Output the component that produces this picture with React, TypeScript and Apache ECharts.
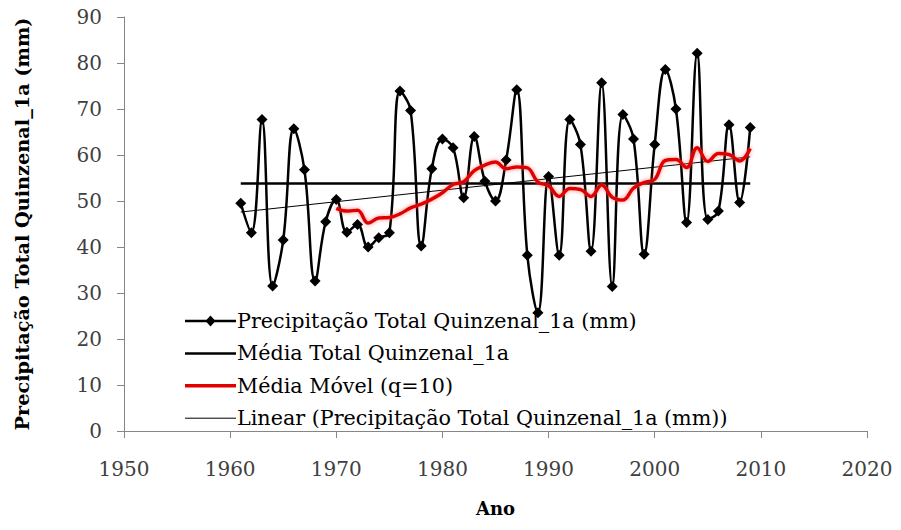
import React, { useEffect, useRef } from "react";
import * as echarts from "echarts";

const years = [
  1961, 1962, 1963, 1964, 1965, 1966, 1967, 1968, 1969, 1970,
  1971, 1972, 1973, 1974, 1975, 1976, 1977, 1978, 1979, 1980,
  1981, 1982, 1983, 1984, 1985, 1986, 1987, 1988, 1989, 1990,
  1991, 1992, 1993, 1994, 1995, 1996, 1997, 1998, 1999, 2000,
  2001, 2002, 2003, 2004, 2005, 2006, 2007, 2008, 2009,
];
const precip = [
  49.5, 43.1, 67.7, 31.5, 41.5, 65.7, 56.8, 32.6, 45.5, 50.3,
  43.2, 44.9, 40.0, 42.0, 43.1, 73.9, 69.7, 40.2, 57.0, 63.5,
  61.6, 50.7, 64.0, 54.3, 50.0, 58.9, 74.2, 38.2, 25.7, 55.3,
  38.2, 67.7, 62.3, 39.1, 75.7, 31.4, 68.8, 63.5, 38.4, 62.3,
  78.6, 70.0, 45.3, 82.1, 46.0, 47.8, 66.6, 49.7, 66.0,
];
const maYears = [
  1970, 1971, 1972, 1973, 1974, 1975, 1976, 1977, 1978, 1979,
  1980, 1981, 1982, 1983, 1984, 1985, 1986, 1987, 1988, 1989,
  1990, 1991, 1992, 1993, 1994, 1995, 1996, 1997, 1998, 1999,
  2000, 2001, 2002, 2003, 2004, 2005, 2006, 2007, 2008, 2009,
];
const movingAvg = [
  48.4, 47.8, 48.0, 45.2, 46.3, 46.4, 47.2, 48.5, 49.3, 50.4,
  51.8, 53.6, 54.2, 56.6, 57.8, 58.5, 57.0, 57.4, 57.2, 54.1,
  53.3, 51.0, 52.7, 52.5, 51.0, 53.5, 50.8, 50.2, 52.8, 54.0,
  54.7, 58.8, 59.0, 57.3, 61.6, 58.6, 60.3, 60.1, 58.7, 61.4,
];
const meanYears = [1961, 2009];
const meanValues = [53.8, 53.8];
const trendYears = [1961, 2009];
const trendValues = [47.6, 59.6];

const names = [
  "Precipitação Total Quinzenal_1a (mm)",
  "Média Total Quinzenal_1a",
  "Média Móvel (q=10)",
  "Linear (Precipitação Total Quinzenal_1a (mm))",
];
const legendColors = ["#000000", "#000000", "#e00000", "#000000"];
const legendWidths = [2.5, 2.5, 3.5, 1];

const zip = (xs: number[], ys: number[]) => xs.map((x, i) => [x, ys[i]]);

export default function App() {
  const ref = useRef<HTMLDivElement>(null);
  useEffect(() => {
    if (!ref.current) return;
    const chart = echarts.init(ref.current, undefined, { renderer: "svg" });
    const serif = "'DejaVu Serif', serif";

    const lx = 185;
    const ly = 321;
    const rowH = 32.4;
    const legendGraphics: any[] = [];
    names.forEach((n, i) => {
      const y = ly + i * rowH;
      legendGraphics.push({
        type: "line",
        shape: { x1: lx, y1: y, x2: lx + 51, y2: y },
        style: { stroke: legendColors[i], lineWidth: legendWidths[i] },
        z: 10,
      });
      if (i === 0) {
        legendGraphics.push({
          type: "polygon",
          shape: {
            points: [
              [lx + 25.5, y - 5.5],
              [lx + 30.5, y],
              [lx + 25.5, y + 5.5],
              [lx + 20.5, y],
            ],
          },
          style: { fill: "#000" },
          z: 10,
        });
      }
      legendGraphics.push({
        type: "text",
        x: lx + 52,
        y: y,
        style: {
          text: n,
          fontFamily: serif,
          fontSize: 20.7,
          fill: "#000",
          verticalAlign: "middle",
          align: "left",
        },
        z: 10,
      });
    });

    chart.setOption({
      animation: false,
      backgroundColor: "#ffffff",
      grid: { left: 124, right: 34, top: 17, bottom: 99, containLabel: false },
      graphic: legendGraphics,
      xAxis: {
        type: "value",
        min: 1950,
        max: 2020,
        interval: 10,
        name: "Ano",
        nameLocation: "middle",
        nameGap: 68,
        nameTextStyle: { fontFamily: serif, fontWeight: "bold", fontSize: 18, color: "#000" },
        axisLine: { lineStyle: { color: "#868686", width: 1 } },
        axisTick: { show: true, length: 7, lineStyle: { color: "#868686" } },
        axisLabel: {
          fontFamily: serif,
          fontSize: 20,
          color: "#404040",
          margin: 28,
          formatter: (v: number) => String(v),
        },
        splitLine: { show: false },
      },
      yAxis: {
        type: "value",
        min: 0,
        max: 90,
        interval: 10,
        name: "Precipitação Total Quinzenal_1a (mm)",
        nameLocation: "middle",
        nameRotate: 90,
        nameGap: 92,
        nameTextStyle: { fontFamily: serif, fontWeight: "bold", fontSize: 19.3, color: "#000" },
        axisLine: { show: true, lineStyle: { color: "#868686", width: 1 } },
        axisTick: { show: true, length: 7, lineStyle: { color: "#868686" } },
        axisLabel: { fontFamily: serif, fontSize: 20, color: "#404040", margin: 22 },
        splitLine: { show: false },
      },
      series: [
        {
          name: names[0],
          type: "line",
          data: zip(years, precip),
          smooth: 0.4,
          symbol: "diamond",
          symbolSize: 11,
          lineStyle: { color: "#000", width: 2.5 },
          itemStyle: { color: "#000" },
          z: 3,
        },
        {
          name: names[1],
          type: "line",
          data: zip(meanYears, meanValues),
          symbol: "none",
          lineStyle: { color: "#000", width: 2.5 },
          itemStyle: { color: "#000" },
          z: 2,
        },
        {
          name: names[2],
          type: "line",
          data: zip(maYears, movingAvg),
          smooth: 0.4,
          symbol: "none",
          lineStyle: {
            color: "#e00000",
            width: 3.5,
            shadowBlur: 4,
            shadowColor: "rgba(255,90,90,0.7)",
          },
          itemStyle: { color: "#e00000" },
          z: 4,
        },
        {
          name: names[3],
          type: "line",
          data: zip(trendYears, trendValues),
          symbol: "none",
          lineStyle: { color: "#000", width: 1 },
          itemStyle: { color: "#000" },
          z: 2,
        },
      ],
    });
    return () => chart.dispose();
  }, []);
  return (
    <div
      ref={ref}
      style={{ position: "absolute", left: 0, top: 0, width: 901, height: 530 }}
    />
  );
}
